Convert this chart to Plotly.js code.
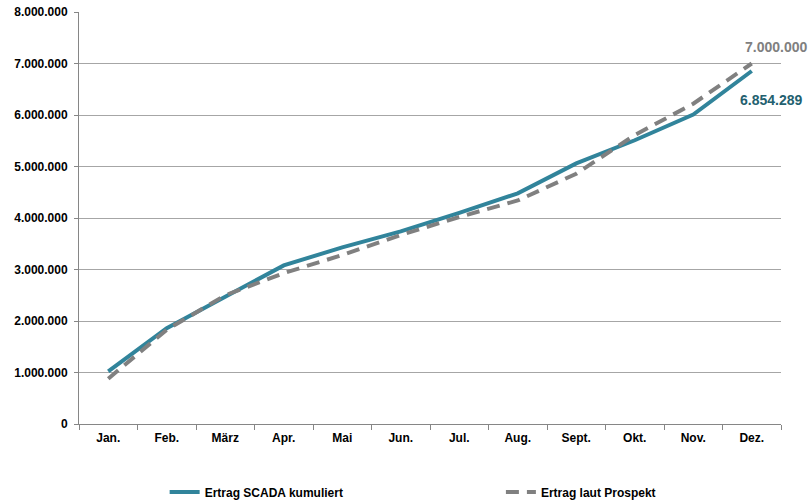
<!DOCTYPE html>
<html>
<head>
<meta charset="utf-8">
<script src="https://cdn.plot.ly/plotly-3.0.1.min.js"></script>
<style>html,body{margin:0;padding:0;background:#fff;}#chart{width:810px;height:502px;}</style>
</head>
<body>
<div id="chart"></div>
<script>
const months = ["Jan.", "Feb.", "März", "Apr.", "Mai", "Jun.", "Jul.", "Aug.", "Sept.", "Okt.", "Nov.", "Dez."];
const scada = [1020000, 1860000, 2470000, 3080000, 3430000, 3740000, 4100000, 4480000, 5060000, 5510000, 6010000, 6854289];
const prospekt = [880000, 1830000, 2500000, 2930000, 3280000, 3670000, 4020000, 4340000, 4860000, 5610000, 6220000, 7000000];
const seriesNames = ["Ertrag SCADA kumuliert", "Ertrag laut Prospekt"];
const endLabels = ["6.854.289", "7.000.000"];

const fam = "Liberation Sans, Arial, sans-serif";
const tickFont = {family: fam, size: 12, color: "#000", weight: "bold"};

const traces = [
  {x: months, y: scada, name: seriesNames[0], type: "scatter", mode: "lines",
   line: {color: "#31849B", width: 4}, legend: "legend"},
  {x: months, y: prospekt, name: seriesNames[1], type: "scatter", mode: "lines",
   line: {color: "#808080", width: 4, dash: "13px,8px"}, legend: "legend2"}
];

const layout = {
  width: 810, height: 502,
  margin: {l: 79, r: 29, t: 12, b: 78, autoexpand: false},
  paper_bgcolor: "#fff", plot_bgcolor: "#fff",
  separators: ",.",
  font: {family: fam, size: 12, color: "#000"},
  showlegend: true,
  xaxis: {
    type: "category", tickson: "boundaries", ticks: "outside", ticklen: 5,
    tickcolor: "#868686", showline: true, linecolor: "#868686", linewidth: 1,
    showgrid: false, tickfont: tickFont, ticklabelstandoff: 3,
    range: [-0.5, 11.5], fixedrange: true
  },
  yaxis: {
    range: [0, 8000000], dtick: 1000000, tickformat: ",.0f",
    ticks: "outside", ticklen: 4, tickcolor: "#868686", ticklabelstandoff: 4,
    showline: true, linecolor: "#868686", linewidth: 1,
    showgrid: true, gridcolor: "#a6a6a6", gridwidth: 1, zeroline: false,
    tickfont: tickFont
  },
  legend: {
    orientation: "h", x: 0.122, xanchor: "left", y: -0.165, yanchor: "middle",
    font: tickFont, bgcolor: "rgba(0,0,0,0)"
  },
  legend2: {
    orientation: "h", x: 0.601, xanchor: "left", y: -0.165, yanchor: "middle",
    font: tickFont, bgcolor: "rgba(0,0,0,0)"
  },
  annotations: [
    {x: months[11], y: prospekt[11], xref: "x", yref: "y", text: endLabels[1], showarrow: false,
     xshift: 24, yshift: 17, font: {family: fam, size: 14, color: "#808080", weight: "bold"}},
    {x: months[11], y: scada[11], xref: "x", yref: "y", text: endLabels[0], showarrow: false,
     xshift: 19, yshift: -29, font: {family: fam, size: 14, color: "#23606F", weight: "bold"}}
  ]
};

Plotly.newPlot("chart", traces, layout, {displayModeBar: false, staticPlot: true});
</script>
</body>
</html>
